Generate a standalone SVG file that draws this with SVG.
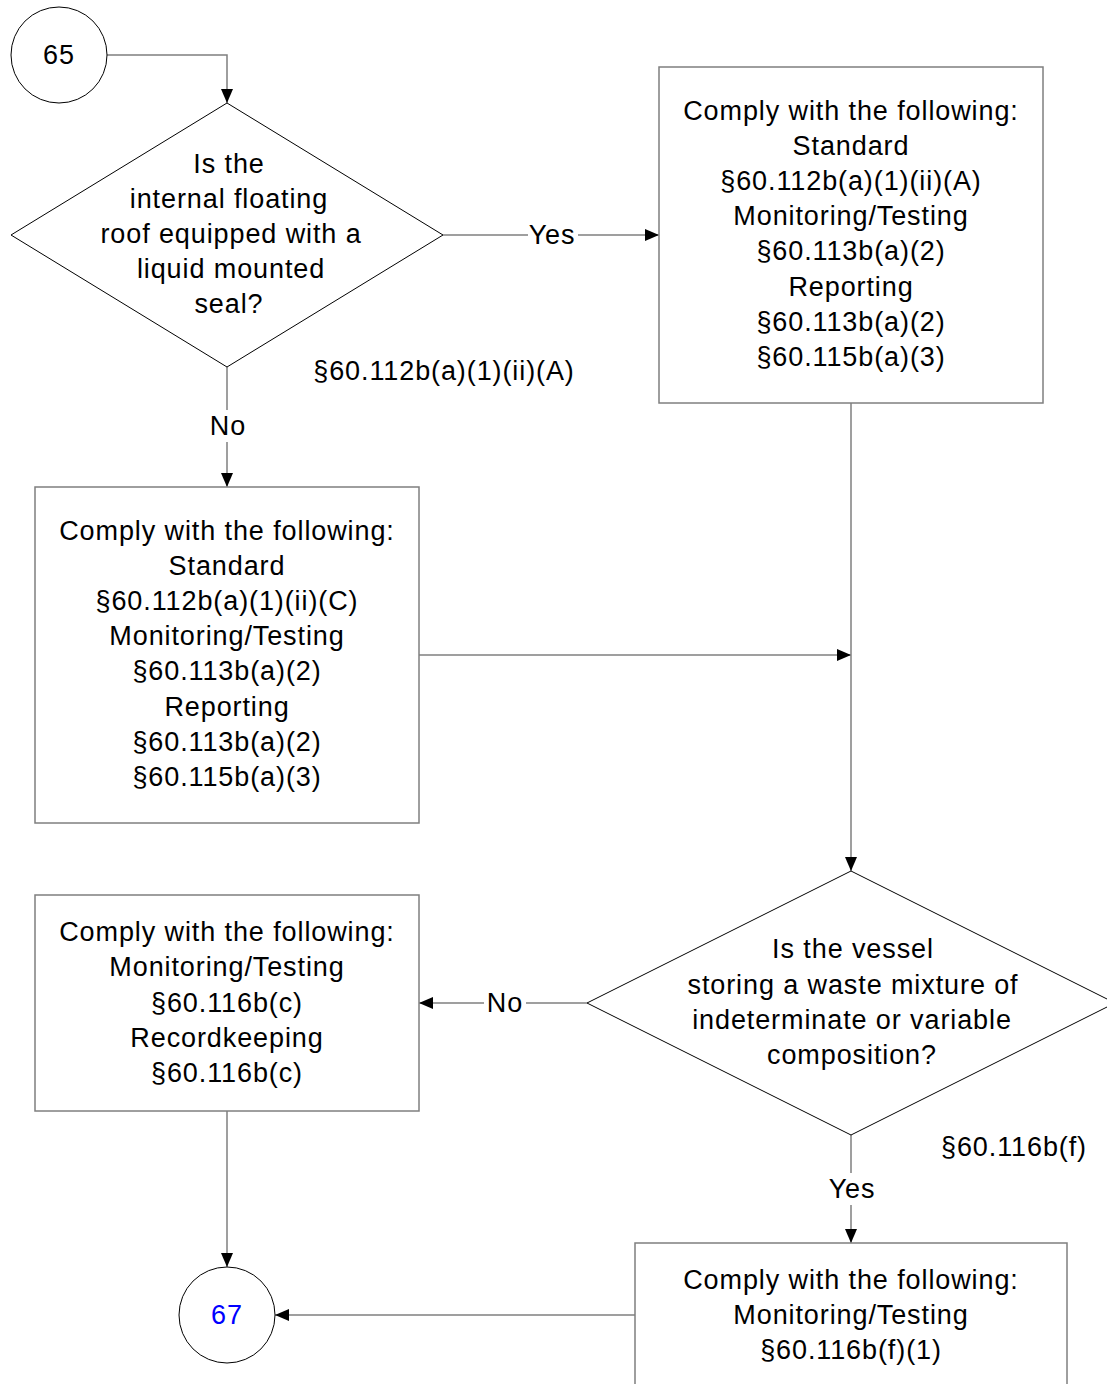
<svg xmlns="http://www.w3.org/2000/svg" width="1107" height="1384" viewBox="0 0 1107 1384">
<style>
text{font-family:"Liberation Sans",Arial,sans-serif;font-size:27px;fill:#000;text-anchor:middle;letter-spacing:0.9px}
.box{fill:#fff;stroke:#7f7f7f;stroke-width:1.5}
.shape{fill:#fff;stroke:#000;stroke-width:1}
.conn{fill:none;stroke:#7f7f7f;stroke-width:1.5}
.bg{fill:#fff}
</style>
<defs>
<marker id="arr" viewBox="0 0 14 12" refX="14" refY="6" markerWidth="14" markerHeight="12" markerUnits="userSpaceOnUse" orient="auto">
<path d="M0,0 L14,6 L0,12 Z" fill="#000"/>
</marker>
</defs>
<g id="connectors">
<path class="conn" d="M107,55 H227 V103" marker-end="url(#arr)"/>
<path class="conn" d="M443,235 H659" marker-end="url(#arr)"/>
<path class="conn" d="M227,367 V487" marker-end="url(#arr)"/>
<path class="conn" d="M419,655 H851" marker-end="url(#arr)"/>
<path class="conn" d="M851,403 V871" marker-end="url(#arr)"/>
<path class="conn" d="M587,1003 H419" marker-end="url(#arr)"/>
<path class="conn" d="M851,1135 V1243" marker-end="url(#arr)"/>
<path class="conn" d="M227,1111 V1267" marker-end="url(#arr)"/>
<path class="conn" d="M635,1315 H275" marker-end="url(#arr)"/>
<rect class="bg" x="528" y="220" width="50" height="30"/>
<text x="552" y="244">Yes</text>
<rect class="bg" x="207" y="410" width="42" height="32"/>
<text x="228" y="435">No</text>
<rect class="bg" x="484" y="988" width="42" height="30"/>
<text x="505" y="1012">No</text>
<rect class="bg" x="827" y="1173" width="50" height="32"/>
<text x="852" y="1198">Yes</text>
<text x="444" y="380">§60.112b(a)(1)(ii)(A)</text>
<text x="1014" y="1156">§60.116b(f)</text>
</g>
<g id="n65">
<circle class="shape" cx="59" cy="55" r="48"/>
<text x="59" y="64">65</text>
</g>
<g id="d1">
<polygon class="shape" points="227,103 443,235 227,367 11,235"/>
<text x="229" y="173">Is the</text>
<text x="229" y="208">internal floating</text>
<text x="231" y="243">roof equipped with a</text>
<text x="231" y="278">liquid mounted</text>
<text x="229" y="313">seal?</text>
</g>
<g id="b1">
<rect class="box" x="659" y="67" width="384" height="336"/>
<text x="851" y="120">Comply with the following:</text>
<text x="851" y="155">Standard</text>
<text x="851" y="190">§60.112b(a)(1)(ii)(A)</text>
<text x="851" y="225">Monitoring/Testing</text>
<text x="851" y="260">§60.113b(a)(2)</text>
<text x="851" y="296">Reporting</text>
<text x="851" y="331">§60.113b(a)(2)</text>
<text x="851" y="366">§60.115b(a)(3)</text>
</g>
<g id="b2">
<rect class="box" x="35" y="487" width="384" height="336"/>
<text x="227" y="540">Comply with the following:</text>
<text x="227" y="575">Standard</text>
<text x="227" y="610">§60.112b(a)(1)(ii)(C)</text>
<text x="227" y="645">Monitoring/Testing</text>
<text x="227" y="680">§60.113b(a)(2)</text>
<text x="227" y="716">Reporting</text>
<text x="227" y="751">§60.113b(a)(2)</text>
<text x="227" y="786">§60.115b(a)(3)</text>
</g>
<g id="d2">
<polygon class="shape" points="851,871 1115,1003 851,1135 587,1003"/>
<text x="853" y="958">Is the vessel</text>
<text x="853" y="994">storing a waste mixture of</text>
<text x="852" y="1029">indeterminate or variable</text>
<text x="852" y="1064">composition?</text>
</g>
<g id="b3">
<rect class="box" x="35" y="895" width="384" height="216"/>
<text x="227" y="941">Comply with the following:</text>
<text x="227" y="976">Monitoring/Testing</text>
<text x="227" y="1012">§60.116b(c)</text>
<text x="227" y="1047">Recordkeeping</text>
<text x="227" y="1082">§60.116b(c)</text>
</g>
<g id="b4">
<rect class="box" x="635" y="1243" width="432" height="160"/>
<text x="851" y="1289">Comply with the following:</text>
<text x="851" y="1324">Monitoring/Testing</text>
<text x="851" y="1359">§60.116b(f)(1)</text>
</g>
<g id="n67">
<circle class="shape" cx="227" cy="1315" r="48"/>
<text x="227" y="1324" style="fill:#0000ff">67</text>
</g>
</svg>
